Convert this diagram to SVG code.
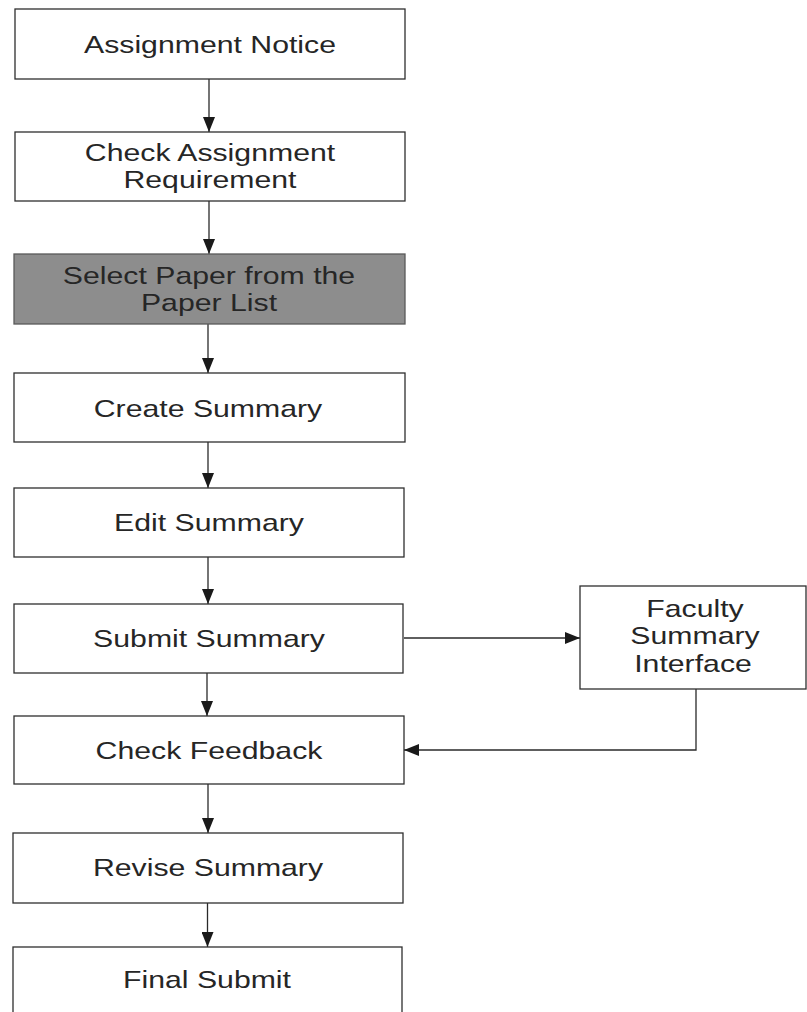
<svg xmlns="http://www.w3.org/2000/svg" width="807" height="1012" viewBox="0 0 807 1012">
  <style>
    .box { fill: #ffffff; stroke: #2e2e2e; stroke-width: 1.3; }
    .box.shaded { fill: #8d8d8d; stroke: #5a5a5a; }
    .lbl { font-family: "Liberation Sans", Arial, sans-serif; font-size: 24px; fill: #262626; text-anchor: middle; }
    .edge { fill: none; stroke: #2a2a2a; stroke-width: 1.3; }
  </style>
  <defs>
    <marker id="arrow" markerUnits="userSpaceOnUse" markerWidth="16" markerHeight="12" refX="15" refY="6" orient="auto">
      <path d="M0,0 L15,6 L0,12 Z" fill="#1a1a1a"/>
    </marker>
  </defs>
  <rect width="807" height="1012" fill="#ffffff"/>

  <g id="connectors">
    <line class="edge" x1="209" y1="79" x2="209" y2="132" marker-end="url(#arrow)"/>
    <line class="edge" x1="209" y1="201" x2="209" y2="254" marker-end="url(#arrow)"/>
    <line class="edge" x1="208" y1="324" x2="208" y2="373" marker-end="url(#arrow)"/>
    <line class="edge" x1="208" y1="442" x2="208" y2="488" marker-end="url(#arrow)"/>
    <line class="edge" x1="208" y1="557" x2="208" y2="604" marker-end="url(#arrow)"/>
    <line class="edge" x1="207" y1="673" x2="207" y2="716" marker-end="url(#arrow)"/>
    <line class="edge" x1="208" y1="784" x2="208" y2="833" marker-end="url(#arrow)"/>
    <line class="edge" x1="207.5" y1="903" x2="207.5" y2="947" marker-end="url(#arrow)"/>
    <line class="edge" x1="404" y1="638" x2="580" y2="638" marker-end="url(#arrow)"/>
    <polyline class="edge" points="696,689 696,750 404,750" marker-end="url(#arrow)"/>
  </g>

  <g id="assignment-notice">
    <rect class="box" x="15" y="9" width="390" height="70"/>
    <text class="lbl" transform="translate(210,52.5) scale(1.26,1)">Assignment Notice</text>
  </g>

  <g id="check-requirement">
    <rect class="box" x="15" y="132" width="390" height="69"/>
    <text class="lbl" transform="translate(210,161) scale(1.26,1)">Check Assignment</text>
    <text class="lbl" transform="translate(210,188) scale(1.26,1)">Requirement</text>
  </g>

  <g id="select-paper">
    <rect class="box shaded" x="14" y="254" width="391" height="70"/>
    <text class="lbl" transform="translate(209,283.5) scale(1.26,1)">Select Paper from the</text>
    <text class="lbl" transform="translate(209,310.5) scale(1.26,1)">Paper List</text>
  </g>

  <g id="create-summary">
    <rect class="box" x="14" y="373" width="391" height="69"/>
    <text class="lbl" transform="translate(208,416.5) scale(1.26,1)">Create Summary</text>
  </g>

  <g id="edit-summary">
    <rect class="box" x="14" y="488" width="390" height="69"/>
    <text class="lbl" transform="translate(209,531) scale(1.26,1)">Edit Summary</text>
  </g>

  <g id="submit-summary">
    <rect class="box" x="14" y="604" width="389" height="69"/>
    <text class="lbl" transform="translate(209,647) scale(1.26,1)">Submit Summary</text>
  </g>

  <g id="faculty-interface">
    <rect class="box" x="580" y="586" width="226" height="103"/>
    <text class="lbl" transform="translate(695,616.5) scale(1.26,1)">Faculty</text>
    <text class="lbl" transform="translate(695,644) scale(1.26,1)">Summary</text>
    <text class="lbl" transform="translate(693,671.5) scale(1.26,1)">Interface</text>
  </g>

  <g id="check-feedback">
    <rect class="box" x="14" y="716" width="390" height="68"/>
    <text class="lbl" transform="translate(209,758.5) scale(1.26,1)">Check Feedback</text>
  </g>

  <g id="revise-summary">
    <rect class="box" x="13" y="833" width="390" height="70"/>
    <text class="lbl" transform="translate(208,876) scale(1.26,1)">Revise Summary</text>
  </g>

  <g id="final-submit">
    <rect class="box" x="13" y="947" width="389" height="70"/>
    <text class="lbl" transform="translate(207,987.5) scale(1.26,1)">Final Submit</text>
  </g>
</svg>
